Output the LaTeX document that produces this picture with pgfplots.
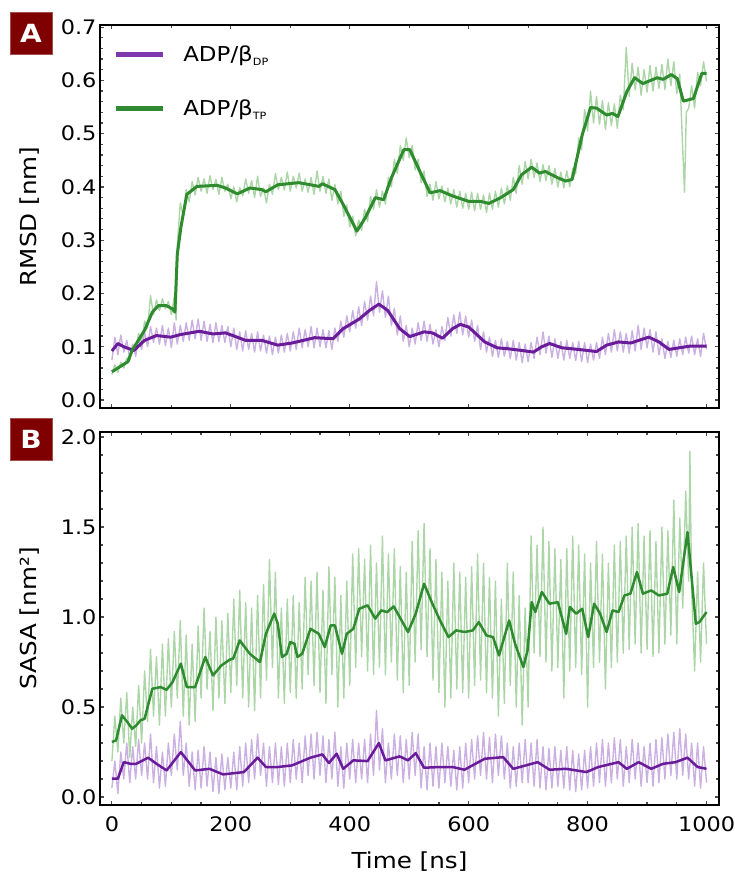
\documentclass[border=0pt]{standalone}
\usepackage{fontspec}
\setmainfont{DejaVu Sans}[FakeStretch=1.12]
\usepackage{pgfplots}
\pgfplotsset{compat=1.18}

\definecolor{gdark}{RGB}{46,139,46}
\definecolor{pdark}{RGB}{106,27,154}
\definecolor{legp}{RGB}{125,55,175}
\definecolor{legg}{RGB}{48,138,50}
\definecolor{graw}{RGB}{172,214,168}
\definecolor{praw}{RGB}{203,176,226}
\definecolor{badge}{RGB}{127,0,0}

\pgfplotsset{
  panel/.style={
    scale only axis,
    width=619pt,
    xmin=-20, xmax=1021,
    axis line style={line width=1.8pt},
    tick pos=both, tick align=inside,
    major tick length=4pt, minor tick length=3pt,
    every tick/.style={gray!60!black, line width=1.2pt},
    xtick={0,200,400,600,800,1000},
    /pgf/number format/assume math mode=true,
    /pgf/number format/1000 sep={},
    tick label style={font=\fontsize{20}{23}\selectfont},
    label style={font=\fontsize{22}{25}\selectfont},
    ylabel style={at={(axis description cs:-0.113,0.5)}, anchor=center},
    yticklabel style={/pgf/number format/.cd, fixed, fixed zerofill, precision=1},
  },
  raw/.style={line width=1.4pt, line join=round},
}

\begin{document}
\begin{tikzpicture}
\useasboundingbox (0pt,0pt) rectangle (735pt,-877pt);

% ---------------- RMSD ----------------
\begin{axis}[panel,
  at={(100pt,-25pt)}, anchor=north west,
  height=383pt,
  ymin=-0.015, ymax=0.704,
  ytick={0,0.1,0.2,0.3,0.4,0.5,0.6,0.7},
  minor y tick num=4, minor x tick num=1,
  xticklabels={},
  ylabel={RMSD [nm]},
  legend style={at={(axis cs:2,0.666)}, anchor=north west, draw=none, fill=none,
    font=\fontsize{20.5}{23}\selectfont, row sep=37pt, inner sep=0pt,
    nodes={inner sep=0pt}, column sep=18pt},
  legend cell align=left,
  legend image code/.code={\draw[#1] (0pt,0pt) -- (47pt,0pt);},
]
\addlegendimage{draw=legp, line width=5pt}
\addlegendentry{ADP/β\raisebox{-0.35ex}{\fontsize{10}{10}\selectfont DP}}
\addlegendimage{draw=legg, line width=5pt}
\addlegendentry{ADP/β\raisebox{-0.35ex}{\fontsize{10}{10}\selectfont TP}}

% raw traces
\addplot[raw, draw=praw, forget plot] coordinates {
(0,0.075)(5,0.118)(10,0.085)(15,0.122)(20,0.090)(25,0.112)(30,0.078)(35,0.105)(40,0.082)(45,0.118)
(50,0.095)(55,0.128)(60,0.100)(65,0.138)(70,0.108)(75,0.135)(80,0.105)(85,0.140)(90,0.102)(95,0.135)
(100,0.098)(105,0.145)(110,0.105)(115,0.140)(120,0.110)(125,0.145)(130,0.112)(135,0.150)(140,0.115)(145,0.152)
(150,0.112)(155,0.148)(160,0.110)(165,0.142)(170,0.108)(175,0.145)(180,0.110)(185,0.140)(190,0.108)(195,0.138)
(200,0.100)(205,0.135)(210,0.095)(215,0.128)(220,0.092)(225,0.130)(230,0.095)(235,0.125)(240,0.090)(245,0.128)
(250,0.092)(255,0.122)(260,0.088)(265,0.120)(270,0.085)(275,0.118)(280,0.088)(285,0.122)(290,0.090)(295,0.125)
(300,0.092)(305,0.128)(310,0.095)(315,0.135)(320,0.098)(325,0.132)(330,0.100)(335,0.138)(340,0.098)(345,0.135)
(350,0.100)(355,0.132)(360,0.098)(365,0.130)(370,0.095)(375,0.135)(380,0.110)(385,0.148)(390,0.118)(395,0.158)
(400,0.128)(405,0.168)(410,0.135)(415,0.175)(420,0.140)(425,0.185)(430,0.150)(435,0.195)(440,0.158)(445,0.222)
(450,0.165)(455,0.205)(460,0.155)(465,0.195)(470,0.140)(475,0.172)(480,0.122)(485,0.158)(490,0.110)(495,0.140)
(500,0.100)(505,0.135)(510,0.105)(515,0.145)(520,0.112)(525,0.148)(530,0.110)(535,0.142)(540,0.105)(545,0.132)
(550,0.100)(555,0.138)(560,0.112)(565,0.155)(570,0.120)(575,0.160)(580,0.125)(585,0.165)(590,0.122)(595,0.158)
(600,0.118)(605,0.150)(610,0.110)(615,0.140)(620,0.095)(625,0.128)(630,0.090)(635,0.118)(640,0.082)(645,0.112)
(650,0.080)(655,0.115)(660,0.082)(665,0.110)(670,0.078)(675,0.112)(680,0.075)(685,0.108)(690,0.070)(695,0.105)
(700,0.072)(705,0.108)(710,0.078)(715,0.118)(720,0.085)(725,0.128)(730,0.088)(735,0.120)(740,0.080)(745,0.115)
(750,0.078)(755,0.110)(760,0.075)(765,0.112)(770,0.078)(775,0.108)(780,0.074)(785,0.110)(790,0.072)(795,0.108)
(800,0.070)(805,0.105)(810,0.075)(815,0.108)(820,0.078)(825,0.118)(830,0.085)(835,0.125)(840,0.090)(845,0.132)
(850,0.092)(855,0.128)(860,0.090)(865,0.125)(870,0.088)(875,0.130)(880,0.092)(885,0.140)(890,0.095)(895,0.135)
(900,0.098)(905,0.132)(910,0.090)(915,0.128)(920,0.085)(925,0.115)(930,0.078)(935,0.110)(940,0.080)(945,0.112)
(950,0.082)(955,0.115)(960,0.085)(965,0.118)(970,0.088)(975,0.120)(980,0.085)(985,0.115)(990,0.082)(995,0.125)
(1000,0.095)};
\addplot[raw, draw=graw, forget plot] coordinates {
(0,0.048)(5,0.066)(10,0.052)(15,0.071)(20,0.060)(25,0.079)(30,0.074)(35,0.101)(40,0.096)(45,0.125)
(50,0.108)(55,0.148)(60,0.135)(65,0.196)(70,0.160)(75,0.188)(80,0.168)(85,0.190)(90,0.171)(95,0.185)
(100,0.160)(105,0.195)(108,0.150)(110,0.290)(115,0.370)(120,0.345)(125,0.395)(130,0.372)(135,0.410)(140,0.385)
(145,0.418)(150,0.392)(155,0.415)(160,0.388)(165,0.421)(170,0.395)(175,0.414)(180,0.386)(185,0.418)(190,0.392)
(195,0.405)(200,0.378)(205,0.400)(210,0.372)(215,0.399)(220,0.383)(225,0.415)(230,0.388)(235,0.412)(240,0.380)
(245,0.420)(250,0.382)(255,0.398)(260,0.370)(265,0.405)(270,0.386)(275,0.425)(280,0.395)(285,0.418)(290,0.394)
(295,0.428)(300,0.392)(305,0.420)(310,0.398)(315,0.426)(320,0.392)(325,0.415)(330,0.390)(335,0.418)(340,0.386)
(345,0.430)(350,0.392)(355,0.420)(360,0.388)(365,0.415)(370,0.375)(375,0.405)(380,0.368)(385,0.392)(390,0.345)
(395,0.366)(400,0.325)(405,0.345)(410,0.308)(415,0.338)(420,0.318)(425,0.358)(430,0.335)(435,0.382)(440,0.358)
(445,0.395)(450,0.362)(455,0.392)(460,0.368)(465,0.418)(470,0.400)(475,0.452)(480,0.425)(485,0.478)(490,0.450)
(495,0.492)(500,0.455)(505,0.478)(510,0.432)(515,0.452)(520,0.408)(525,0.430)(530,0.382)(535,0.405)(540,0.375)
(545,0.410)(550,0.378)(555,0.402)(560,0.372)(565,0.398)(570,0.368)(575,0.395)(580,0.362)(585,0.392)(590,0.360)
(595,0.388)(600,0.358)(605,0.390)(610,0.355)(615,0.388)(620,0.358)(625,0.385)(630,0.352)(635,0.388)(640,0.358)
(645,0.392)(650,0.362)(655,0.398)(660,0.368)(665,0.402)(670,0.375)(675,0.418)(680,0.388)(685,0.440)(690,0.405)
(695,0.448)(700,0.415)(705,0.452)(710,0.418)(715,0.445)(720,0.410)(725,0.442)(730,0.412)(735,0.440)(740,0.405)
(745,0.435)(750,0.400)(755,0.428)(760,0.398)(765,0.430)(770,0.400)(775,0.435)(780,0.425)(785,0.492)(790,0.470)
(795,0.545)(800,0.505)(805,0.580)(810,0.520)(815,0.570)(820,0.518)(825,0.562)(830,0.508)(835,0.558)(840,0.515)
(845,0.556)(850,0.510)(855,0.572)(860,0.545)(865,0.662)(870,0.570)(875,0.632)(880,0.582)(885,0.625)(890,0.572)
(895,0.620)(900,0.578)(905,0.628)(910,0.580)(915,0.625)(920,0.585)(925,0.630)(930,0.583)(935,0.640)(940,0.590)
(945,0.635)(950,0.575)(955,0.612)(960,0.470)(963,0.390)(966,0.540)(970,0.548)(975,0.590)(980,0.548)(985,0.615)
(990,0.590)(995,0.635)(1000,0.598)};

% running averages
\addplot[pdark, line width=3pt, line join=round, forget plot] coordinates {
(0,0.092)(10,0.106)(20,0.100)(37,0.093)(55,0.112)(75,0.121)(99,0.118)(116,0.123)(147,0.129)
(170,0.124)(191,0.126)(225,0.112)(252,0.112)(279,0.103)(303,0.107)(341,0.117)(372,0.115)
(389,0.134)(416,0.152)(433,0.168)(449,0.180)(464,0.168)(484,0.134)(501,0.119)(525,0.128)
(539,0.126)(556,0.116)(573,0.134)(586,0.142)(600,0.137)(627,0.109)(648,0.098)(668,0.096)
(689,0.093)(709,0.090)(723,0.100)(736,0.106)(757,0.098)(784,0.095)(815,0.091)(832,0.103)
(852,0.109)(873,0.107)(886,0.112)(903,0.118)(920,0.109)(937,0.095)(954,0.098)(971,0.101)(1000,0.101)};
\addplot[gdark, line width=3pt, line join=round, forget plot] coordinates {
(0,0.053)(27,0.072)(34,0.093)(55,0.131)(68,0.165)(78,0.177)(92,0.177)(102,0.171)(106,0.165)
(110,0.274)(116,0.324)(126,0.386)(143,0.401)(177,0.403)(191,0.398)(211,0.387)(232,0.398)
(252,0.395)(259,0.391)(279,0.404)(314,0.408)(334,0.404)(348,0.401)(354,0.406)(375,0.395)
(389,0.367)(412,0.317)(426,0.342)(443,0.380)(457,0.376)(470,0.417)(491,0.470)(501,0.470)
(518,0.429)(535,0.389)(552,0.393)(573,0.383)(600,0.373)(620,0.373)(634,0.369)(654,0.380)
(675,0.395)(689,0.423)(706,0.437)(719,0.426)(729,0.429)(750,0.417)(763,0.411)(774,0.414)
(791,0.498)(805,0.549)(815,0.548)(832,0.535)(842,0.538)(851,0.532)(866,0.579)(879,0.605)
(893,0.594)(917,0.605)(927,0.602)(941,0.611)(951,0.603)(961,0.561)(978,0.566)(992,0.613)(1000,0.613)};
\end{axis}

% ---------------- SASA ----------------
\begin{axis}[panel,
  at={(100pt,-432pt)}, anchor=north west,
  height=373pt,
  ymin=-0.044, ymax=2.028,
  ytick={0,0.5,1,1.5,2},
  minor y tick num=4, minor x tick num=3,
  ylabel={SASA [nm²]},
  xlabel={Time [ns]},
  xticklabel style={yshift=-8pt},
  xlabel style={at={(axis description cs:0.5,-0.153)}, anchor=center},
]
\addplot[raw, draw=graw, forget plot] coordinates {
(0,0.20)(5,0.45)(10,0.25)(15,0.55)(20,0.30)(25,0.58)(30,0.22)(35,0.50)(40,0.28)(45,0.62)
(50,0.30)(55,0.70)(60,0.42)(65,0.82)(70,0.45)(75,0.78)(80,0.40)(85,0.85)(90,0.45)(95,0.88)
(100,0.50)(105,0.92)(110,0.55)(115,0.98)(120,0.45)(125,0.90)(130,0.40)(135,0.85)(140,0.42)(145,0.95)
(150,0.55)(155,1.05)(160,0.60)(165,0.92)(170,0.48)(175,1.00)(180,0.55)(185,0.98)(190,0.52)(195,1.02)
(200,0.58)(205,1.10)(210,0.62)(215,1.15)(220,0.55)(225,1.08)(230,0.50)(235,1.05)(240,0.48)(245,1.12)
(250,0.55)(255,1.18)(260,0.65)(265,1.32)(270,0.72)(275,1.25)(280,0.55)(285,1.05)(290,0.52)(295,1.10)
(300,0.58)(305,1.12)(310,0.55)(315,1.08)(320,0.60)(325,1.22)(330,0.68)(335,1.20)(340,0.62)(345,1.25)
(350,0.58)(355,1.15)(360,0.52)(365,1.28)(370,0.68)(375,1.22)(380,0.50)(385,1.12)(390,0.55)(395,1.20)
(400,0.62)(405,1.35)(410,0.72)(415,1.38)(420,0.78)(425,1.32)(430,0.70)(435,1.40)(440,0.68)(445,1.30)
(450,0.72)(455,1.45)(460,0.68)(465,1.35)(470,0.75)(475,1.38)(480,0.65)(485,1.28)(490,0.58)(495,1.25)
(500,0.62)(505,1.42)(510,0.75)(515,1.48)(520,0.82)(525,1.52)(530,0.78)(535,1.38)(540,0.65)(545,1.32)
(550,0.58)(555,1.25)(560,0.50)(565,1.20)(570,0.55)(575,1.30)(580,0.60)(585,1.25)(590,0.58)(595,1.22)
(600,0.55)(605,1.28)(610,0.62)(615,1.35)(620,0.65)(625,1.30)(630,0.58)(635,1.22)(640,0.55)(645,1.20)
(650,0.45)(655,1.10)(660,0.52)(665,1.30)(670,0.62)(675,1.25)(680,0.50)(685,1.12)(690,0.40)(695,1.05)
(700,0.50)(705,1.45)(710,0.80)(715,1.40)(720,0.78)(725,1.50)(730,0.75)(735,1.42)(740,0.70)(745,1.38)
(750,0.72)(755,1.32)(760,0.55)(765,1.38)(770,0.70)(775,1.45)(780,0.72)(785,1.40)(790,0.68)(795,1.35)
(800,0.50)(805,1.30)(810,0.72)(815,1.42)(820,0.75)(825,1.35)(830,0.60)(835,1.30)(840,0.72)(845,1.40)
(850,0.75)(855,1.42)(860,0.80)(865,1.45)(870,0.82)(875,1.50)(880,0.85)(885,1.52)(890,0.80)(895,1.45)
(900,0.82)(905,1.48)(910,0.78)(915,1.42)(920,0.80)(925,1.50)(930,0.85)(935,1.48)(940,0.90)(945,1.65)
(950,0.85)(955,1.55)(960,1.05)(965,1.70)(970,1.20)(972,1.92)(975,1.15)(980,0.70)(985,1.25)(990,0.75)
(995,1.30)(1000,0.85)};
\addplot[raw, draw=praw, forget plot] coordinates {
(0,0.05)(5,0.20)(10,0.02)(15,0.25)(20,0.10)(25,0.30)(30,0.08)(35,0.28)(40,0.10)(45,0.32)
(50,0.12)(55,0.30)(60,0.10)(65,0.35)(70,0.08)(75,0.28)(80,0.05)(85,0.25)(90,0.06)(95,0.30)
(100,0.12)(105,0.35)(110,0.15)(115,0.42)(120,0.12)(125,0.30)(130,0.06)(135,0.25)(140,0.04)(145,0.26)
(150,0.05)(155,0.28)(160,0.06)(165,0.25)(170,0.03)(175,0.22)(180,0.02)(185,0.24)(190,0.04)(195,0.22)
(200,0.05)(205,0.25)(210,0.04)(215,0.28)(220,0.06)(225,0.30)(230,0.08)(235,0.32)(240,0.10)(245,0.35)
(250,0.12)(255,0.30)(260,0.06)(265,0.28)(270,0.08)(275,0.30)(280,0.07)(285,0.28)(290,0.06)(295,0.30)
(300,0.08)(305,0.32)(310,0.10)(315,0.30)(320,0.08)(325,0.34)(330,0.12)(335,0.35)(340,0.10)(345,0.36)
(350,0.12)(355,0.34)(360,0.08)(365,0.32)(370,0.10)(375,0.36)(380,0.06)(385,0.28)(390,0.05)(395,0.30)
(400,0.10)(405,0.32)(410,0.08)(415,0.30)(420,0.10)(425,0.32)(430,0.08)(435,0.35)(440,0.12)(445,0.48)
(450,0.15)(455,0.38)(460,0.08)(465,0.30)(470,0.10)(475,0.35)(480,0.12)(485,0.34)(490,0.08)(495,0.32)
(500,0.10)(505,0.36)(510,0.12)(515,0.35)(520,0.05)(525,0.28)(530,0.04)(535,0.30)(540,0.06)(545,0.28)
(550,0.05)(555,0.30)(560,0.08)(565,0.28)(570,0.06)(575,0.26)(580,0.04)(585,0.28)(590,0.05)(595,0.30)
(600,0.08)(605,0.32)(610,0.10)(615,0.34)(620,0.12)(625,0.36)(630,0.10)(635,0.33)(640,0.08)(645,0.35)
(650,0.12)(655,0.34)(660,0.10)(665,0.30)(670,0.05)(675,0.28)(680,0.06)(685,0.30)(690,0.08)(695,0.32)
(700,0.08)(705,0.30)(710,0.06)(715,0.32)(720,0.05)(725,0.28)(730,0.04)(735,0.27)(740,0.05)(745,0.28)
(750,0.06)(755,0.26)(760,0.05)(765,0.28)(770,0.04)(775,0.26)(780,0.03)(785,0.24)(790,0.04)(795,0.26)
(800,0.05)(805,0.28)(810,0.06)(815,0.30)(820,0.08)(825,0.32)(830,0.06)(835,0.30)(840,0.08)(845,0.33)
(850,0.10)(855,0.32)(860,0.06)(865,0.28)(870,0.08)(875,0.32)(880,0.10)(885,0.30)(890,0.06)(895,0.28)
(900,0.08)(905,0.30)(910,0.06)(915,0.32)(920,0.08)(925,0.33)(930,0.10)(935,0.35)(940,0.12)(945,0.36)
(950,0.10)(955,0.38)(960,0.12)(965,0.35)(970,0.10)(975,0.30)(980,0.06)(985,0.30)(990,0.05)(995,0.28)
(1000,0.08)};

\addplot[pdark, line width=2.5pt, line join=round, forget plot] coordinates {
(0,0.102)(10,0.102)(20,0.194)(31,0.185)(41,0.185)(61,0.219)(75,0.185)(92,0.148)(116,0.250)
(140,0.148)(164,0.157)(187,0.126)(222,0.139)(245,0.219)(259,0.167)(279,0.167)(303,0.176)
(334,0.219)(354,0.237)(365,0.189)(378,0.241)(389,0.157)(406,0.204)(430,0.200)(449,0.300)
(460,0.204)(484,0.226)(498,0.204)(511,0.244)(525,0.163)(552,0.167)(573,0.167)(593,0.152)
(627,0.213)(658,0.222)(675,0.157)(716,0.194)(736,0.152)(764,0.157)(798,0.139)(818,0.167)
(852,0.194)(866,0.157)(886,0.194)(907,0.157)(927,0.185)(948,0.194)(968,0.219)(985,0.167)(1000,0.157)};
\addplot[gdark, line width=2.5pt, line join=round, forget plot] coordinates {
(0,0.306)(7,0.315)(17,0.454)(26,0.417)(34,0.380)(41,0.398)(48,0.426)(55,0.435)(68,0.602)
(82,0.611)(92,0.596)(102,0.639)(116,0.741)(126,0.611)(140,0.611)(157,0.778)(170,0.676)
(184,0.731)(198,0.763)(204,0.769)(215,0.870)(232,0.796)(249,0.750)(259,0.907)(273,1.019)
(279,0.963)(286,0.778)(294,0.796)(300,0.861)(307,0.852)(312,0.778)(320,0.796)(334,0.935)
(348,0.907)(358,0.833)(368,0.954)(375,0.954)(387,0.796)(395,0.907)(406,0.935)(416,1.046)
(430,1.065)(443,0.991)(453,1.037)(463,1.028)(474,1.059)(484,1.000)(498,0.917)(511,1.019)
(525,1.185)(539,1.074)(552,0.981)(566,0.889)(579,0.926)(593,0.917)(607,0.926)(617,0.972)
(630,0.898)(641,0.889)(651,0.787)(668,0.981)(678,0.852)(692,0.722)(699,0.815)(706,1.083)
(712,1.028)(723,1.139)(736,1.074)(750,1.083)(764,0.907)(770,1.056)(781,1.019)(791,1.046)
(801,0.889)(811,1.074)(821,1.019)(832,0.917)(842,1.037)(852,1.028)(862,1.120)(872,1.130)
(883,1.250)(893,1.130)(907,1.148)(920,1.120)(934,1.130)(944,1.278)(954,1.139)(968,1.472)
(982,0.963)(988,0.972)(1000,1.028)};
\end{axis}

% panel badges
\node[fill=badge, draw=badge!70!white, line width=0.6pt, minimum size=42pt, inner sep=0pt,
  text=white, font=\bfseries\fontsize{25}{25}\selectfont] at (31pt,-33pt) {A};
\node[fill=badge, draw=badge!70!white, line width=0.6pt, minimum size=42pt, inner sep=0pt,
  text=white, font=\bfseries\fontsize{25}{25}\selectfont] at (31pt,-439pt) {B};
\end{tikzpicture}
\end{document}
